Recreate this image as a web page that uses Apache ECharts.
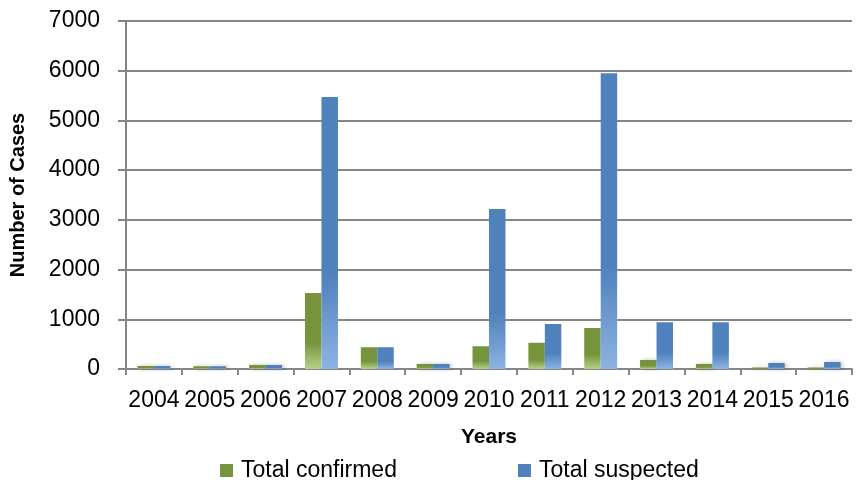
<!DOCTYPE html>
<html>
<head>
<meta charset="utf-8">
<script src="https://cdn.jsdelivr.net/npm/echarts@6/dist/echarts.min.js"></script>
<style>
    html, body { margin: 0; padding: 0; background: #fff; }
    #chart { width: 866px; height: 480px; }
</style>
</head>
<body>
<div id="chart"></div>
<script>
    var years = ["2004", "2005", "2006", "2007", "2008", "2009", "2010", "2011", "2012", "2013", "2014", "2015", "2016"];
    var totalConfirmed = [60, 55, 80, 1530, 440, 100, 460, 530, 825, 180, 100, 30, 30];
    var totalSuspected = [60, 55, 80, 5470, 440, 100, 3220, 905, 5950, 940, 940, 120, 140];
    var seriesNames = ["Total confirmed", "Total suspected"];

    var chart = echarts.init(document.getElementById("chart"));
    var font = "Liberation Sans";
    var gray = "#868686";

    function barColor(dark, light) {
        return new echarts.graphic.LinearGradient(0, 0, 0, 1, [
            { offset: 0, color: dark },
            { offset: 0.65, color: dark },
            { offset: 1, color: light }
        ]);
    }

    var option = {
        backgroundColor: "#fff",
        textStyle: { fontFamily: font },
        grid: { left: 124, right: 14, top: 21, bottom: 111 },
        legend: {
            top: 454,
            left: 215,
            icon: "rect",
            itemWidth: 13,
            itemHeight: 13,
            itemGap: 121,
            textStyle: { fontSize: 23, color: "#000", fontFamily: font, padding: [0, 0, 0, 3] },
            data: [
                { name: seriesNames[0], itemStyle: { color: "#77933C" } },
                { name: seriesNames[1], itemStyle: { color: "#4F81BD" } }
            ]
        },
        xAxis: {
            type: "category",
            data: years,
            name: "Years",
            nameLocation: "middle",
            nameGap: 58,
            nameTextStyle: { fontSize: 21, fontWeight: "bold", color: "#000" },
            axisLine: { lineStyle: { color: gray, width: 2 } },
            axisTick: { show: true, length: 6, lineStyle: { color: gray, width: 2 } },
            axisLabel: { interval: 0, fontSize: 23, color: "#000", margin: 20 }
        },
        yAxis: {
            type: "value",
            min: 0,
            max: 7000,
            interval: 1000,
            name: "Number of Cases",
            nameLocation: "middle",
            nameGap: 98,
            nameTextStyle: { fontSize: 20, fontWeight: "bold", color: "#000" },
            axisLine: { show: true, lineStyle: { color: gray, width: 2 } },
            axisTick: { show: true, length: 8, lineStyle: { color: gray, width: 2 } },
            axisLabel: {
                fontSize: 23, color: "#000", margin: 26,
                formatter: function (v) { return String(v); }
            },
            splitLine: { lineStyle: { color: gray, width: 2 } }
        },
        series: [
            {
                name: seriesNames[0],
                type: "bar",
                barGap: 0,
                barCategoryGap: "41%",
                itemStyle: {
                    color: barColor("#77933C", "#B7D08A"),
                    shadowBlur: 4,
                    shadowColor: "rgba(0,0,0,0.25)",
                    shadowOffsetX: 2
                },
                data: totalConfirmed
            },
            {
                name: seriesNames[1],
                type: "bar",
                barGap: 0,
                barCategoryGap: "41%",
                itemStyle: {
                    color: barColor("#4F81BD", "#8DB3E2"),
                    shadowBlur: 4,
                    shadowColor: "rgba(0,0,0,0.25)",
                    shadowOffsetX: 2
                },
                data: totalSuspected
            }
        ]
    };
    chart.setOption(option);
</script>
</body>
</html>
